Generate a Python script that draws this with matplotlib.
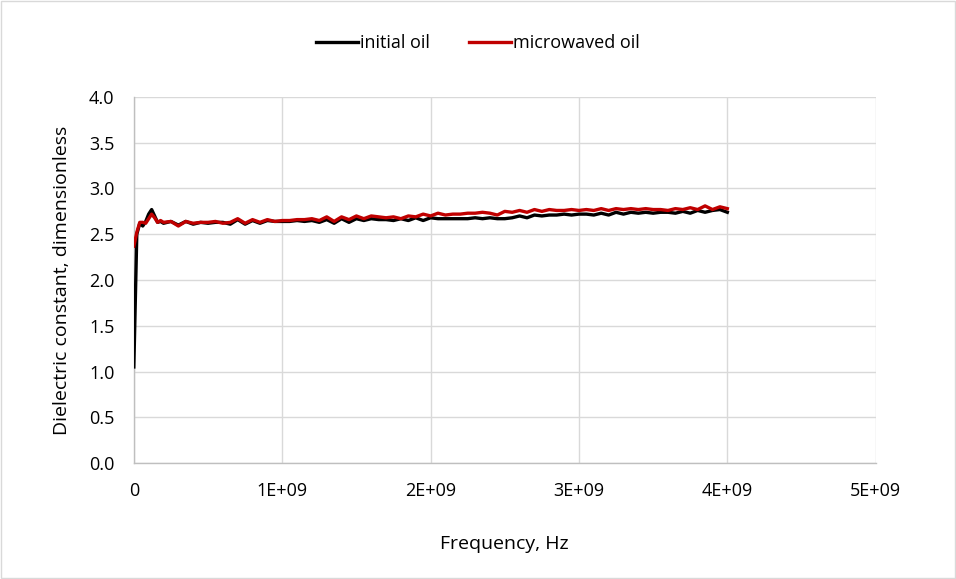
import numpy as np
import matplotlib
matplotlib.use('Agg')
import matplotlib.pyplot as plt
from matplotlib.ticker import FuncFormatter

plt.rcParams['font.family'] = ['Open Sans', 'DejaVu Sans']

# frequency in GHz (scaled to Hz below)
freq_ghz = [0.00, 0.02, 0.04, 0.06, 0.08, 0.10, 0.12, 0.14, 0.16, 0.18, 0.20,
            0.25, 0.30, 0.35, 0.40, 0.45, 0.50, 0.55, 0.60, 0.65, 0.70,
            0.75, 0.80, 0.85, 0.90, 0.95, 1.00, 1.05, 1.10, 1.15, 1.20,
            1.25, 1.30, 1.35, 1.40, 1.45, 1.50, 1.55, 1.60, 1.65, 1.70,
            1.75, 1.80, 1.85, 1.90, 1.95, 2.00, 2.05, 2.10, 2.15, 2.20,
            2.25, 2.30, 2.35, 2.40, 2.45, 2.50, 2.55, 2.60, 2.65, 2.70,
            2.75, 2.80, 2.85, 2.90, 2.95, 3.00, 3.05, 3.10, 3.15, 3.20,
            3.25, 3.30, 3.35, 3.40, 3.45, 3.50, 3.55, 3.60, 3.65, 3.70,
            3.75, 3.80, 3.85, 3.90, 3.95, 4.00]

initial_oil = [1.05, 2.50, 2.62, 2.59, 2.64, 2.72, 2.77, 2.70, 2.63, 2.64, 2.62,
               2.64, 2.60, 2.64, 2.61, 2.63, 2.62, 2.63, 2.63, 2.61, 2.66,
               2.61, 2.65, 2.62, 2.65, 2.64, 2.64, 2.64, 2.65, 2.64, 2.65,
               2.63, 2.66, 2.62, 2.67, 2.63, 2.67, 2.65, 2.67, 2.66, 2.66,
               2.65, 2.67, 2.65, 2.68, 2.65, 2.68, 2.67, 2.67, 2.67, 2.67,
               2.67, 2.68, 2.67, 2.68, 2.67, 2.67, 2.68, 2.70, 2.68, 2.71,
               2.70, 2.71, 2.71, 2.72, 2.71, 2.72, 2.72, 2.71, 2.73, 2.71,
               2.74, 2.72, 2.74, 2.73, 2.74, 2.73, 2.74, 2.74, 2.73, 2.75,
               2.73, 2.76, 2.74, 2.76, 2.77, 2.74]

microwaved_oil = [2.37, 2.52, 2.63, 2.63, 2.62, 2.67, 2.72, 2.68, 2.63, 2.65, 2.63,
                  2.64, 2.59, 2.64, 2.62, 2.63, 2.63, 2.64, 2.62, 2.63, 2.67,
                  2.62, 2.66, 2.63, 2.66, 2.64, 2.65, 2.65, 2.66, 2.66, 2.67,
                  2.65, 2.69, 2.64, 2.69, 2.66, 2.70, 2.67, 2.70, 2.69, 2.68,
                  2.69, 2.67, 2.70, 2.69, 2.72, 2.70, 2.73, 2.71, 2.72, 2.72,
                  2.73, 2.73, 2.74, 2.73, 2.71, 2.75, 2.74, 2.76, 2.74, 2.77,
                  2.75, 2.77, 2.76, 2.76, 2.77, 2.76, 2.77, 2.76, 2.78, 2.76,
                  2.78, 2.77, 2.78, 2.77, 2.78, 2.77, 2.77, 2.76, 2.78, 2.77,
                  2.79, 2.77, 2.81, 2.77, 2.80, 2.78]

x_ticks = [0, 1e9, 2e9, 3e9, 4e9, 5e9]
y_ticks = np.arange(0, 4.01, 0.5)

freq = np.array(freq_ghz) * 1e9

fig = plt.figure(figsize=(9.56, 5.79), dpi=100)
ax = fig.add_axes([0.140, 0.2003, 0.776, 0.6322])

ax.plot(freq, initial_oil, color='black', lw=2.4, label='initial oil', zorder=3)
ax.plot(freq, microwaved_oil, color='#c00000', lw=2.4, label='microwaved oil', zorder=4)

ax.set_xlim(0, 5e9)
ax.set_ylim(0, 4)
ax.set_xticks(x_ticks)
ax.set_yticks(y_ticks)


def sci_fmt(v, pos):
    if v == 0:
        return '0'
    exp = int(np.floor(np.log10(v)))
    return '%dE+%02d' % (round(v / 10 ** exp), exp)


ax.xaxis.set_major_formatter(FuncFormatter(sci_fmt))
ax.yaxis.set_major_formatter(FuncFormatter(lambda v, p: '%.1f' % v))

ax.grid(True, color='#d9d9d9', lw=1.0)
ax.set_axisbelow(True)
for side in ['top', 'right']:
    ax.spines[side].set_visible(False)
for side in ['left', 'bottom']:
    ax.spines[side].set_color('#bfbfbf')
    ax.spines[side].set_linewidth(1.0)
ax.tick_params(length=0, labelsize=13, colors='#404040')
ax.tick_params(axis='x', pad=14)
ax.tick_params(axis='y', pad=14)
for lbl in ax.get_xticklabels() + ax.get_yticklabels():
    lbl.set_color('black')

ax.set_xlabel('Frequency, Hz', fontsize=14, labelpad=25)
ax.set_ylabel('Dielectric constant, dimensionless', fontsize=14, labelpad=13)

leg = fig.legend(loc='center', bbox_to_anchor=(0.5, 0.925), ncol=2, frameon=False,
                 fontsize=13, handlelength=2.3, handletextpad=0.1, columnspacing=2.2)

# outer chart border
fig.patches.append(plt.Rectangle((0.001, 0.001), 0.998, 0.998, transform=fig.transFigure,
                                 fill=False, edgecolor='#d9d9d9', lw=1.0))

fig.savefig('out.png', dpi=100)
